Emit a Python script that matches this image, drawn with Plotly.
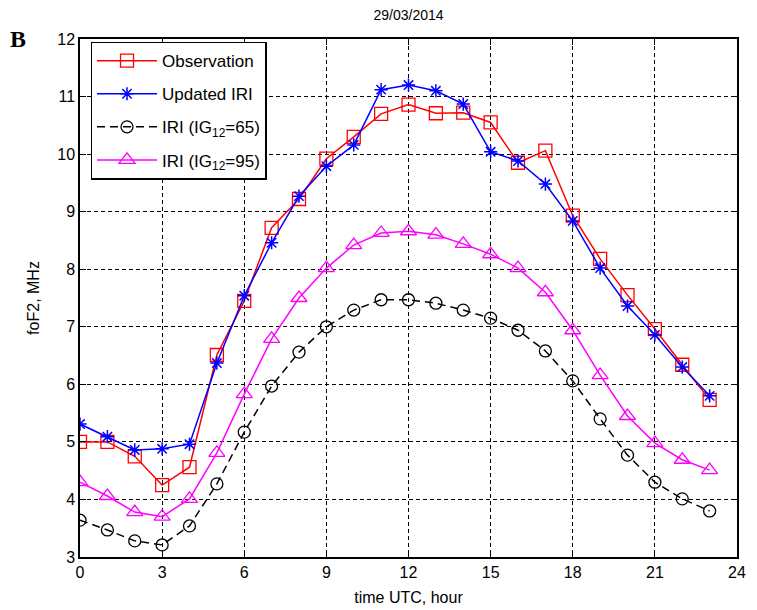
import plotly.graph_objects as go

hours = list(range(24))
observation = [5.00, 5.00, 4.75, 4.25, 4.56, 6.51, 7.45, 8.72, 9.22, 9.92, 10.30, 10.70,
               10.86, 10.71, 10.72, 10.55, 9.85, 10.06, 8.93, 8.18, 7.55, 6.96, 6.34, 5.73]
updated_iri = [5.31, 5.09, 4.86, 4.88, 4.96, 6.37, 7.54, 8.46, 9.27, 9.79, 10.16, 11.12,
               11.20, 11.10, 10.87, 10.04, 9.88, 9.48, 8.84, 8.02, 7.36, 6.86, 6.30, 5.80]
iri_65 = [3.64, 3.47, 3.28, 3.21, 3.54, 4.27, 5.17, 5.97, 6.56, 7.00, 7.29, 7.47,
          7.47, 7.41, 7.29, 7.15, 6.94, 6.58, 6.06, 5.40, 4.77, 4.30, 4.01, 3.80]
iri_95 = [4.30, 4.06, 3.78, 3.70, 4.01, 4.81, 5.83, 6.79, 7.50, 8.02, 8.42, 8.63,
          8.66, 8.60, 8.44, 8.26, 8.02, 7.60, 6.94, 6.16, 5.45, 4.98, 4.69, 4.51]

x_ticks = [0, 3, 6, 9, 12, 15, 18, 21, 24]
y_ticks = [3, 4, 5, 6, 7, 8, 9, 10, 11, 12]

FONT = "Liberation Sans, Arial"

fig = go.Figure()
fig.add_trace(go.Scatter(x=hours, y=observation, mode="lines+markers", name="Observation",
                         legendgroup="a",
                         line=dict(color="#ff0000", width=1.5),
                         marker=dict(symbol="square-open", size=13, color="#ff0000", line=dict(width=1.3))))
fig.add_trace(go.Scatter(x=hours, y=updated_iri, mode="lines+markers", name="Updated IRI",
                         legendgroup="b",
                         line=dict(color="#0000ff", width=1.5),
                         marker=dict(symbol="asterisk-open", size=11, color="#0000ff", line=dict(width=1.5, color="#0000ff"))))
fig.add_trace(go.Scatter(x=hours, y=iri_65, mode="lines+markers", name="IRI (IG<sub>12</sub>=65)",
                         legendgroup="c",
                         line=dict(color="#000000", width=1.5, dash="8px,5px"),
                         marker=dict(symbol="circle-open", size=12, color="#000000", line=dict(width=1.3))))
fig.add_trace(go.Scatter(x=hours, y=iri_95, mode="lines+markers", name="IRI (IG<sub>12</sub>=95)",
                         legendgroup="d",
                         line=dict(color="#ff00ff", width=1.5),
                         marker=dict(symbol="triangle-up-open", size=14, color="#ff00ff", line=dict(width=1.3))))

axis_common = dict(showline=True, linecolor="black", linewidth=1.5, mirror="ticks",
                   ticks="inside", ticklen=6, tickcolor="black",
                   showgrid=True, gridcolor="black", gridwidth=1, griddash="4px,3px",
                   zeroline=False, automargin=False,
                   tickfont=dict(family=FONT, size=16, color="black"))

fig.update_xaxes(range=[0, 24], tickvals=x_ticks, ticktext=[str(t) for t in x_ticks],
                 title=dict(text="time UTC, hour", font=dict(family=FONT, size=16, color="black"), standoff=12),
                 **axis_common)
fig.update_yaxes(range=[3, 12], tickvals=y_ticks, ticktext=[str(t) for t in y_ticks],
                 title=dict(text="foF2, MHz", font=dict(family=FONT, size=16, color="black"), standoff=14),
                 **axis_common)

# page body adds an 8px offset; margins compensate so the plot area sits at 80..737 x 39..557
fig.update_layout(
    width=757, height=610,
    margin=dict(l=72, r=28, t=31, b=61),
    plot_bgcolor="white", paper_bgcolor="white",
    font=dict(family=FONT, color="black"),
    title=dict(text="29/03/2014", x=(72 + 657 / 2) / 757, xanchor="center",
               y=1 - 7 / 610, yanchor="middle",
               font=dict(family=FONT, size=14, color="black")),
    legend=dict(x=0.016, y=0.995, xanchor="left", yanchor="top",
                bgcolor="white", bordercolor="black", borderwidth=1.5,
                font=dict(family=FONT, size=17, color="black"),
                itemwidth=60, tracegroupgap=8),
    showlegend=True,
)

fig.add_annotation(text="<b>B</b>", xref="paper", yref="paper", x=-0.095, y=1.0,
                   xanchor="center", yanchor="middle", showarrow=False,
                   font=dict(family="Liberation Serif, Times New Roman", size=24, color="black"))

fig.write_html("out.html")
